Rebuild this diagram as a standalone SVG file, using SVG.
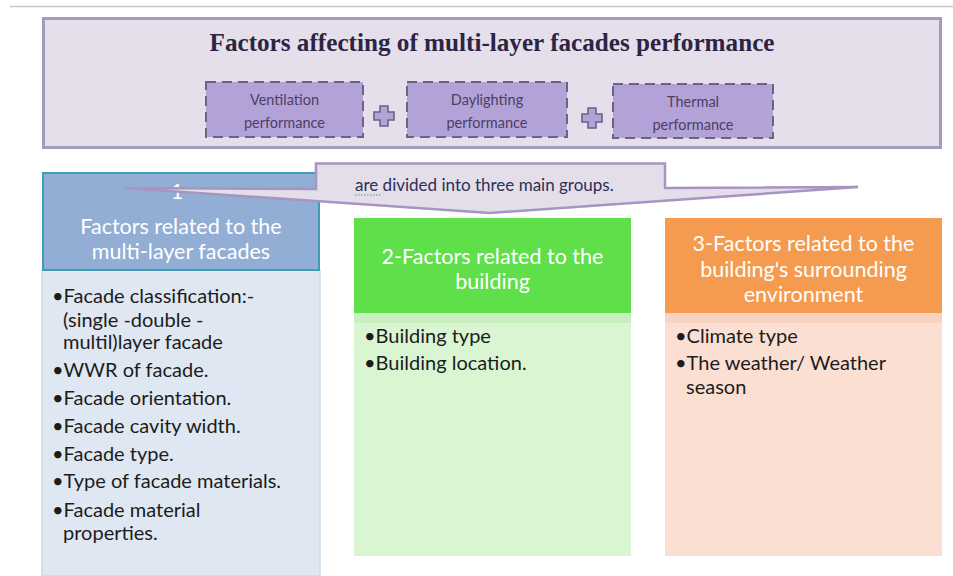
<svg xmlns="http://www.w3.org/2000/svg" width="953" height="576" viewBox="0 0 953 576">
  <defs>
    <style>
      .title { font-family: "Liberation Serif", "DejaVu Serif", serif; font-weight: bold; font-size: 25px; fill: #2d2444; }
      .perf { fill: #b3a2d8; stroke: #6e6282; stroke-width: 2; stroke-dasharray: 10 6; }
      .perf-t { font-family: Lato, "Liberation Sans", sans-serif; font-size: 14.5px; fill: #4b3f63; text-anchor: middle; }
      .plus { fill: #b3a2d8; stroke: #6e6282; stroke-width: 1.6; }
      .head-t { font-family: Lato, "Liberation Sans", sans-serif; font-size: 21.5px; fill: #ffffff; text-anchor: middle; }
      .body-t { font-family: Lato, "Liberation Sans", sans-serif; font-size: 20px; fill: #1c1c1c; }
      .call { fill: #e4deea; stroke: #a595c0; stroke-width: 2.5; stroke-linejoin: miter; }
      .call-t { font-family: Lato, "Liberation Sans", sans-serif; font-size: 17px; fill: #2a3152; }
    </style>
  </defs>

  <rect width="953" height="576" fill="#ffffff"/>
  <line x1="10" y1="6.5" x2="953" y2="6.5" stroke="#c9c6d2" stroke-width="1.5"/>

  <!-- top panel with the three performance aspects -->
  <g id="performance-panel">
    <rect x="43.5" y="18.5" width="897" height="129" fill="#e4dfea" stroke="#a69ab9" stroke-width="3"/>
    <text class="title" x="492" y="51" text-anchor="middle" textLength="565" lengthAdjust="spacingAndGlyphs">Factors affecting of multi-layer facades performance</text>
  </g>

  <g id="ventilation">
    <rect class="perf" x="206" y="82" width="157" height="55"/>
    <text class="perf-t" x="284.5" y="105">Ventilation</text>
    <text class="perf-t" x="284.5" y="128">performance</text>
  </g>
  <g id="plus-1">
    <path class="plus" d="M380,106 h8 v6 h6 v8 h-6 v6 h-8 v-6 h-6 v-8 h6 z"/>
  </g>
  <g id="daylighting">
    <rect class="perf" x="407" y="82" width="160" height="55"/>
    <text class="perf-t" x="487" y="105">Daylighting</text>
    <text class="perf-t" x="487" y="128">performance</text>
  </g>
  <g id="plus-2">
    <path class="plus" d="M588,108 h8 v6 h6 v8 h-6 v6 h-8 v-6 h-6 v-8 h6 z"/>
  </g>
  <g id="thermal">
    <rect class="perf" x="613" y="84" width="160" height="54"/>
    <text class="perf-t" x="693" y="107">Thermal</text>
    <text class="perf-t" x="693" y="130">performance</text>
  </g>

  <!-- group 1: facade factors -->
  <g id="group-facade">
    <rect x="42" y="270" width="278" height="306" fill="#dfe7f2" stroke="#c9dbe7" stroke-width="1.5"/>
    <rect x="43" y="173" width="276" height="97" fill="#93aed5" stroke="#3f9db7" stroke-width="2"/>
    <text class="head-t" x="181" y="199">1-</text>
    <text class="head-t" x="181" y="234">Factors related to the</text>
    <text class="head-t" x="181" y="259">multi-layer facades</text>
    <text class="body-t" x="52" y="303">•Facade classification:-</text>
    <text class="body-t" x="63" y="327">(single -double -</text>
    <text class="body-t" x="63" y="349">multil)layer facade</text>
    <text class="body-t" x="52" y="377">•WWR of facade.</text>
    <text class="body-t" x="52" y="405">•Facade orientation.</text>
    <text class="body-t" x="52" y="433">•Facade cavity width.</text>
    <text class="body-t" x="52" y="461">•Facade type.</text>
    <text class="body-t" x="52" y="488">•Type of facade materials.</text>
    <text class="body-t" x="52" y="517">•Facade material</text>
    <text class="body-t" x="63" y="540">properties.</text>
  </g>

  <!-- group 2: building factors -->
  <g id="group-building">
    <rect x="354" y="313" width="277" height="243" fill="#d9f5d2"/>
    <rect x="354" y="313" width="277" height="10" fill="#c9efbf"/>
    <rect x="354" y="218" width="277" height="95" fill="#5fe04b"/>
    <text class="head-t" x="492.5" y="264">2-Factors related to the</text>
    <text class="head-t" x="492.5" y="289">building</text>
    <text class="body-t" x="364" y="343">•Building type</text>
    <text class="body-t" x="364" y="370">•Building location.</text>
  </g>

  <!-- group 3: surrounding environment factors -->
  <g id="group-environment">
    <rect x="665" y="313" width="277" height="243" fill="#fadfd2"/>
    <rect x="665" y="313" width="277" height="10" fill="#f8d3c2"/>
    <rect x="665" y="218" width="277" height="95" fill="#f49b4f"/>
    <text class="head-t" x="803.5" y="251">3-Factors related to the</text>
    <text class="head-t" x="803.5" y="277">building's surrounding</text>
    <text class="head-t" x="803.5" y="302">environment</text>
    <text class="body-t" x="675" y="343">•Climate type</text>
    <text class="body-t" x="675" y="370">•The weather/ Weather</text>
    <text class="body-t" x="686" y="394">season</text>
  </g>

  <!-- callout spreading into the three groups -->
  <g id="connectors">
    <polygon class="call" points="316,163.5 665,163.5 665,188 858,187 490,213 125,188 316,189"/>
    <text class="call-t" x="355" y="191">are divided into three main groups.</text>
    <line x1="355" y1="195" x2="381" y2="195" stroke="#4fa35a" stroke-width="1.2" stroke-dasharray="1.5 1.5"/>
  </g>
</svg>
